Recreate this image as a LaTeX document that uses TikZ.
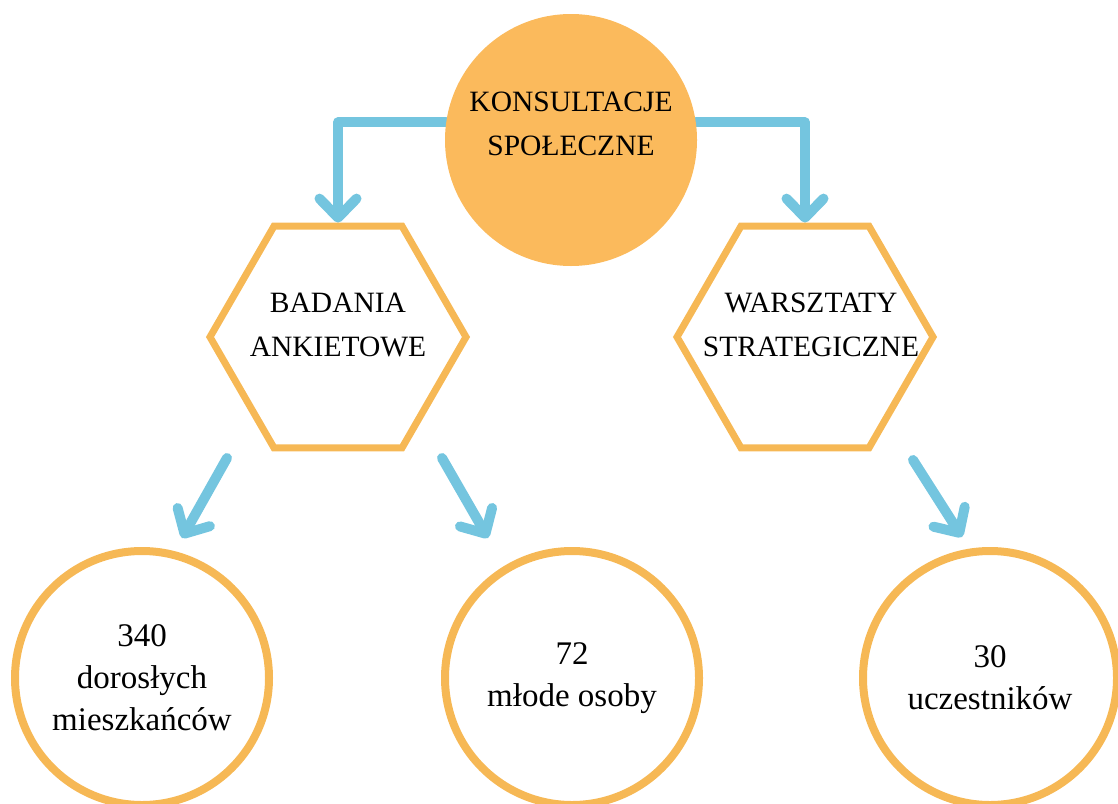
\documentclass[tikz,border=0pt]{standalone}
\usepackage{fontspec}
\setmainfont{Liberation Serif}
\usetikzlibrary{positioning}
\usetikzlibrary{shapes.geometric}
\usetikzlibrary{arrows.meta}
\usetikzlibrary{backgrounds}
\definecolor{sunorange}{HTML}{FBBA5C}
\definecolor{lineorange}{HTML}{F6B855}
\definecolor{skyblue}{HTML}{74C5DF}

\begin{document}
\begin{tikzpicture}[
    x=1pt, y=-1pt,
    topnode/.style={circle, fill=sunorange, minimum size=252pt, inner sep=0pt},
    hexnode/.style={regular polygon, regular polygon sides=6, draw=lineorange, line width=7pt, minimum size=256pt, inner sep=0pt},
    countnode/.style={circle, draw=lineorange, line width=8pt, minimum size=254pt, inner sep=0pt, align=center, font=\fontsize{33}{42}\selectfont},
    capslabel/.style={align=center, font=\fontsize{29.5}{44}\selectfont},
    flow/.style={draw=skyblue, line width=10pt, line cap=round, line join=round, -{Straight Barb[length=19pt, width=37pt, round]}},
  ]
  \useasboundingbox (0,0) rectangle (1118,803);

  % Nodes
  \node[topnode]  (konsultacje) at (571,140) [label={[capslabel, yshift=16pt]center:{KONSULTACJE\\SPOŁECZNE}}] {};

  \node[hexnode]  (badania)     at (338,337) [label={[capslabel, yshift=12pt]center:{BADANIA\\ANKIETOWE}}] {};
  \node[hexnode]  (warsztaty)   at (805,337) [label={[capslabel, xshift=6pt, yshift=12pt]center:{WARSZTATY\\STRATEGICZNE}}] {};

  \node[countnode] (dorosli)    at (142,678) {340\\dorosłych\\mieszkańców};
  \node[countnode] (mlodzi)     at (572,678) {72\\młode osoby};
  \node[countnode] (uczestnicy) at (990,678) {30\\uczestników};

  % arrow ends off the shapes
  \coordinate (badania-l)    at (227,458);
  \coordinate (dorosli-in)   at (182,538);
  \coordinate (badania-r)    at (442,458);
  \coordinate (mlodzi-in)    at (488,538);
  \coordinate (warsztaty-r)  at (913,460);
  \coordinate (uczestnicy-in) at (962,537);

  %Lines
  \begin{scope}[on background layer]
    \draw[flow] (konsultacje.172) -| (badania.north);
    \draw[flow] (konsultacje.8) -| (warsztaty.north);
  \end{scope}
  \draw[flow] (badania-l) -- (dorosli-in);
  \draw[flow] (badania-r) -- (mlodzi-in);
  \draw[flow] (warsztaty-r) -- (uczestnicy-in);
\end{tikzpicture}
\end{document}
